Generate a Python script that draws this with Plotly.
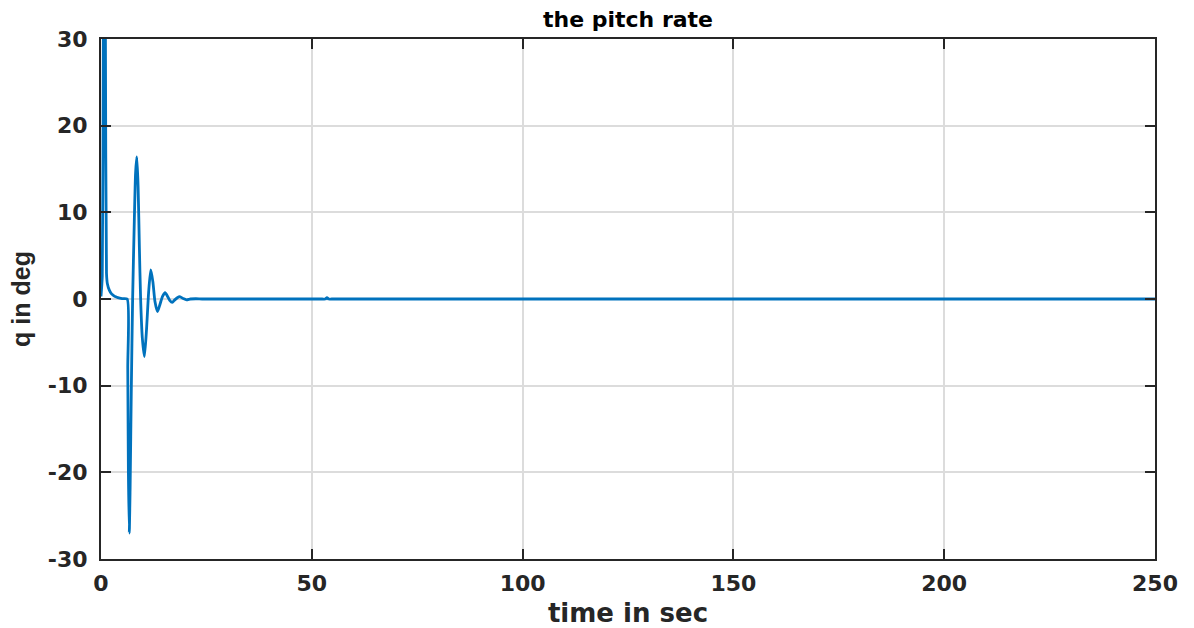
import plotly.graph_objects as go

# time (s) and pitch rate q (deg)
t = [0.0, 0.3, 0.55, 0.8, 1.05, 1.3, 1.5, 2.0, 2.5, 3.0, 3.5, 4.0, 5.0, 6.2,
     6.35, 6.5, 6.7, 6.9, 7.2, 7.5, 7.9, 8.2, 8.5, 8.8, 9.1, 9.4, 9.8, 10.3,
     10.8, 11.3, 11.8, 12.3, 12.8, 13.4, 14.0, 14.6, 15.2, 15.8, 16.3, 16.9,
     17.5, 18.1, 18.7, 19.5, 20.3, 21.2, 22.5, 24.0, 27.0, 32.0, 40.0, 48.0,
     52.5, 53.2, 53.6, 54.0, 54.7, 58.0, 65.0, 80.0, 100.0, 125.0, 150.0,
     175.0, 200.0, 225.0, 250.0]
q = [0.3, 2.6, 30.0, 45.0, 30.0, 3.0, 1.8, 1.0, 0.6, 0.4, 0.25, 0.15, 0.05, 0.0,
     -8.0, -20.0, -27.0, -22.0, -10.0, 0.0, 9.0, 14.5, 16.4, 13.0, 6.0, 0.0, -4.5, -6.65,
     -3.5, 0.8, 3.35, 2.0, -0.3, -1.46, -0.6, 0.3, 0.73, 0.3, -0.15, -0.39,
     -0.1, 0.15, 0.27, 0.05, -0.1, 0.0, 0.03, 0.0, 0.0, 0.0, 0.0, 0.0,
     0.0, 0.0, 0.15, 0.0, 0.0, 0.0, 0.0, 0.0, 0.0, 0.0, 0.0,
     0.0, 0.0, 0.0, 0.0]

x_ticks = [0, 50, 100, 150, 200, 250]
x_tick_text = ["0", "50", "100", "150", "200", "250"]
y_ticks = [-30, -20, -10, 0, 10, 20, 30]
y_tick_text = ["-30", "-20", "-10", "0", "10", "20", "30"]

wide_font = "DejaVu Sans, Verdana, sans-serif"

fig = go.Figure()
fig.add_trace(go.Scatter(
    x=t, y=q, mode="lines",
    line=dict(color="#0072BD", width=2.8, shape="spline", smoothing=0.6),
    showlegend=False,
))

axis_common = dict(
    showline=True, linecolor="#262626", linewidth=2, mirror="ticks",
    ticks="inside", ticklen=10, tickwidth=2, tickcolor="#262626",
    showgrid=True, gridcolor="#dcdcdc", gridwidth=1.5,
    zeroline=False, automargin=False,
    tickfont=dict(family=wide_font, size=22, color="#262626", weight="bold"),
)

fig.update_layout(
    width=1194, height=628,
    margin=dict(l=101, r=39, t=39, b=69),
    paper_bgcolor="white", plot_bgcolor="white",
    title=dict(text="the pitch rate", x=0.5, xanchor="center", y=0.982, yanchor="top",
               xref="paper",
               font=dict(family=wide_font, size=22, color="black", weight="bold")),
    xaxis=dict(range=[0, 250], tickvals=x_ticks, ticktext=x_tick_text,
               ticklabelstandoff=4,
               title=dict(text="time in sec", standoff=10,
                          font=dict(family=wide_font, size=26, color="#262626", weight="bold")),
               **axis_common),
    yaxis=dict(range=[-30, 30], tickvals=y_ticks, ticktext=y_tick_text,
               ticklabelstandoff=7,
               title=dict(text="q in deg", standoff=10,
                          font=dict(family="Liberation Sans, Arial, sans-serif",
                                    size=25, color="#262626", weight="bold")),
               **axis_common),
)

fig.write_html("out.html")
